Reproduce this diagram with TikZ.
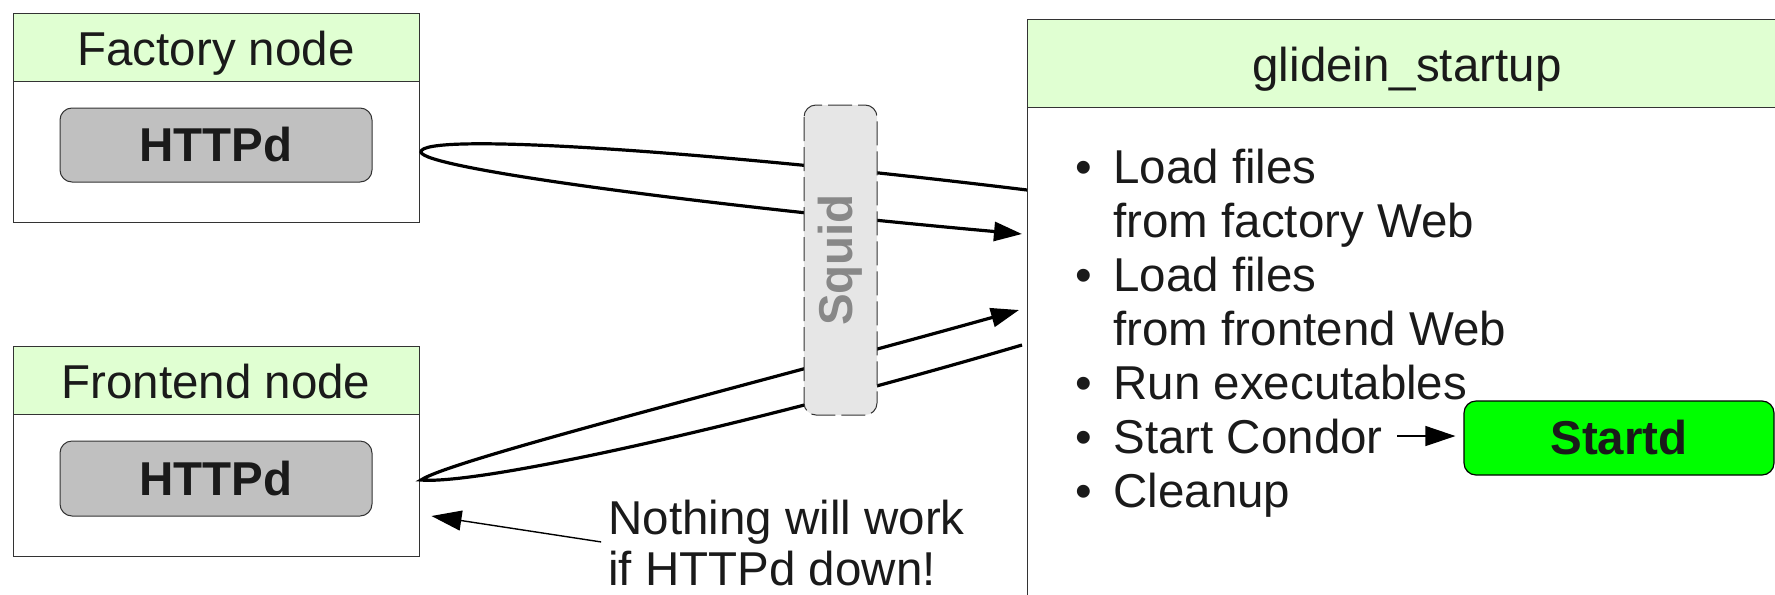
\documentclass[tikz,border=0pt]{standalone}
\usepackage{fontspec}
\setmainfont{Liberation Sans}
\usepackage{tikz}
\usetikzlibrary{arrows.meta, positioning}

\definecolor{HeadGreen}{HTML}{E0FFD2}
\definecolor{BoxLine}{HTML}{333333}
\definecolor{ServerGray}{HTML}{C0C0C0}
\definecolor{ProxyGray}{HTML}{E6E6E6}
\definecolor{ProxyText}{HTML}{888888}
\definecolor{StartGreen}{HTML}{00FF00}
\definecolor{Ink}{HTML}{1A1A1A}

\newcommand{\bul}{\makebox[19pt][l]{\textbullet}}

\begin{document}
\begin{tikzpicture}[x=0.5pt, y=-0.5pt, font=\fontsize{23.75}{27}\selectfont, text=Ink,
        header/.style={draw=BoxLine, fill=HeadGreen, line width=0.5pt, inner sep=0pt, text height=18.5pt, text depth=0pt},
        frame/.style={draw=BoxLine, fill=white, line width=0.5pt, inner sep=0pt},
        server/.style={draw=BoxLine, fill=ServerGray, line width=0.5pt, rounded corners=6pt, minimum width=156pt, minimum height=37pt, font=\fontsize{23.75}{27}\selectfont\bfseries},
        stepline/.style={anchor=base west, inner sep=0pt},
        wire/.style={black, line width=1.6pt},
        fetch/.style={-{Triangle[length=14pt, width=9.5pt]}},
        pointer/.style={black, line width=0.6pt, -{Triangle[length=15pt, width=10pt]}}]
        \useasboundingbox (0, 0) rectangle (1775, 594);

        \node (fbody) at (216, 152)[frame, minimum width=203pt, minimum height=70.25pt] {};
        \node (fhead) at (216, 47.25)[header, minimum width=203pt, minimum height=34.25pt] {Factory node};
        \node (fhttpd) at (216, 145)[server] {HTTPd};

        \node (ebody) at (216, 485)[frame, minimum width=203pt, minimum height=71pt] {};
        \node (ehead) at (216, 380)[header, minimum width=203pt, minimum height=34pt] {Frontend node};
        \node (ehttpd) at (216, 478.5)[server, minimum height=37.5pt] {HTTPd};

        \node (gbody) at (1407, 353.75)[frame, minimum width=380pt, minimum height=246.25pt] {};
        \node (ghead) at (1407, 63.25)[header, minimum width=380pt, minimum height=44.25pt] {glidein\_startup};

        \node (s1) at (1075, 183)[stepline] {\bul Load files};
        \node (s1b) at (1113, 237)[stepline] {from factory Web};
        \node (s2) at (1075, 291)[stepline] {\bul Load files};
        \node (s2b) at (1113, 345)[stepline] {from frontend Web};
        \node (s3) at (1075, 399)[stepline] {\bul Run executables};
        \node (s4) at (1075, 453)[stepline] {\bul Start Condor};
        \node (s5) at (1075, 507)[stepline] {\bul Cleanup};

        \node (startd) at (1619, 438)[draw=black, fill=StartGreen, line width=0.6pt, rounded corners=6pt, minimum width=155pt, minimum height=37pt, font=\fontsize{23.75}{27}\selectfont\bfseries] {Startd};
        \draw[pointer, shorten <=7pt, shorten >=4pt] (s4.east) -- (s4.east -| startd.west);

        \coordinate (fout) at (1027, 190);
        \coordinate (ftip) at (421, 152);
        \coordinate (fin) at (1022, 234);
        \coordinate (eout) at (1022, 345);
        \coordinate (etip) at (421, 480);
        \coordinate (ein) at (1019, 310);

        \draw[wire, fetch] (fout) .. controls (700, 150) and (420, 132) .. (ftip) .. controls (422, 168) and (700, 205) .. (fin);
        \draw[wire, fetch] (eout) .. controls (750, 425) and (480, 485) .. (etip) .. controls (450, 460) and (750, 385) .. (ein);

        \node (squid) at (840.5, 260)[rotate=90, draw=BoxLine, dash pattern=on 12pt off 3pt, fill=ProxyGray, line width=0.5pt, rounded corners=6pt, minimum width=155pt, minimum height=36.5pt, text=ProxyText, font=\fontsize{23.75}{27}\selectfont\bfseries] {Squid};

        \node (note) at (608, 543)[anchor=west, align=left, inner sep=0pt, font=\fontsize{23.75}{25.5}\selectfont] {Nothing will work\\if HTTPd down!};
        \draw[pointer, line width=0.7pt, shorten <=3.5pt] (note.west) -- ([xshift=6pt, yshift=-15.5pt]ebody.east);
    \end{tikzpicture}
\end{document}
